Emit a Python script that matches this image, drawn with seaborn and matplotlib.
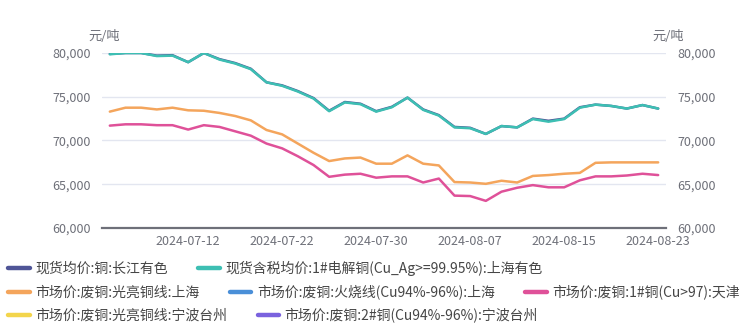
import matplotlib
matplotlib.use("Agg")
import matplotlib.pyplot as plt
from matplotlib.lines import Line2D
import seaborn as sns
import pandas as pd

# Trading days (category axis)
dates = [
    "2024-07-05",
    "2024-07-08", "2024-07-09", "2024-07-10", "2024-07-11", "2024-07-12",
    "2024-07-15", "2024-07-16", "2024-07-17", "2024-07-18", "2024-07-19",
    "2024-07-22", "2024-07-23", "2024-07-24", "2024-07-25", "2024-07-26",
    "2024-07-29", "2024-07-30", "2024-07-31", "2024-08-01", "2024-08-02",
    "2024-08-05", "2024-08-06", "2024-08-07", "2024-08-08", "2024-08-09",
    "2024-08-12", "2024-08-13", "2024-08-14", "2024-08-15", "2024-08-16",
    "2024-08-19", "2024-08-20", "2024-08-21", "2024-08-22", "2024-08-23",
]
tick_dates = ["2024-07-12", "2024-07-22", "2024-07-30", "2024-08-07", "2024-08-15", "2024-08-23"]

# 现货均价:铜:长江有色
changjiang = [79900, 80000, 80000, 79700, 79750, 78950, 80000, 79300, 78850, 78200, 76650, 76300,
              75650, 74850, 73400, 74400, 74200, 73350, 73850, 74900, 73550, 72900, 71550, 71450,
              70750, 71650, 71500, 72500, 72250, 72500, 73800, 74100, 73950, 73650, 74050, 73650]
# 现货含税均价:1#电解铜(Cu_Ag>=99.95%):上海有色
shanghai_cathode = [79850, 80000, 80000, 79650, 79700, 78950, 80000, 79250, 78800, 78150, 76650, 76250,
                    75600, 74800, 73350, 74350, 74150, 73300, 73800, 74900, 73500, 72850, 71500, 71400,
                    70750, 71650, 71500, 72450, 72150, 72450, 73750, 74100, 73950, 73650, 74050, 73650]
# 市场价:废铜:光亮铜线:上海
bright_wire_sh = [73300, 73750, 73750, 73550, 73750, 73450, 73400, 73150, 72800, 72300, 71200, 70700,
                  69650, 68600, 67650, 67950, 68050, 67350, 67350, 68300, 67350, 67150, 65250, 65200,
                  65050, 65400, 65200, 65950, 66050, 66200, 66300, 67450, 67500, 67500, 67500, 67500]
# 市场价:废铜:1#铜(Cu>97):天津
no1_copper_tj = [71700, 71850, 71850, 71750, 71750, 71250, 71750, 71550, 71050, 70550, 69650, 69100,
                 68200, 67200, 65850, 66100, 66200, 65750, 65900, 65900, 65200, 65650, 63700, 63650,
                 63100, 64150, 64600, 64900, 64650, 64650, 65450, 65900, 65900, 66000, 66200, 66050]

names = [
    "现货均价:铜:长江有色",
    "现货含税均价:1#电解铜(Cu_Ag>=99.95%):上海有色",
    "市场价:废铜:光亮铜线:上海",
    "市场价:废铜:火烧线(Cu94%-96%):上海",
    "市场价:废铜:1#铜(Cu>97):天津",
    "市场价:废铜:光亮铜线:宁波台州",
    "市场价:废铜:2#铜(Cu94%-96%):宁波台州",
]
colors = ["#4f5597", "#3dbfb3", "#f4a55c", "#4a8fd8", "#df5199", "#f3d54c", "#7a62de"]
series_values = {
    names[0]: changjiang,
    names[1]: shanghai_cathode,
    names[2]: bright_wire_sh,
    names[4]: no1_copper_tj,
}

frames = []
for name, vals in series_values.items():
    frames.append(pd.DataFrame({"idx": range(len(dates)), "value": vals, "series": name}))
df = pd.concat(frames, ignore_index=True)

sns.set_theme(style="white")
plt.rcParams["font.family"] = ["Noto Sans CJK SC", "DejaVu Sans"]
plt.rcParams["axes.unicode_minus"] = False

W, H = 745, 331
fig = plt.figure(figsize=(W / 100, H / 100), dpi=100)
ax = fig.add_axes([102 / W, 1 - 228 / H, (666 - 102) / W, (228 - 53) / H])

palette = {n: c for n, c in zip(names, colors)}
sns.lineplot(data=df, x="idx", y="value", hue="series", palette=palette,
             hue_order=list(series_values.keys()), linewidth=1.8, ax=ax, legend=False,
             sort=False)

label_color = "#6e7079"
ax.set_xlim(-0.5, len(dates) - 0.5)
ax.set_ylim(60000, 80000)
yt = [60000, 65000, 70000, 75000, 80000]
ax.set_yticks(yt)
ax.set_yticklabels([f"{v:,}" for v in yt], color=label_color, fontsize=9)
ax.set_xticks([dates.index(d) for d in tick_dates])
ax.set_xticklabels(tick_dates, color=label_color, fontsize=9)
ax.tick_params(axis="y", length=0, pad=8)
ax.tick_params(axis="x", length=0, pad=5)
ax.grid(axis="y", color="#e3e6f0", linewidth=1)
ax.set_xlabel("")
ax.set_ylabel("")
for s in ["top", "right", "left"]:
    ax.spines[s].set_visible(False)
ax.spines["bottom"].set_color(label_color)
ax.spines["bottom"].set_linewidth(1.6)
ax.spines["bottom"].set_zorder(5)

ax2 = ax.twinx()
ax2.set_ylim(60000, 80000)
ax2.set_yticks(yt)
ax2.set_yticklabels([f"{v:,}" for v in yt], color=label_color, fontsize=9)
ax2.tick_params(axis="y", length=0, pad=8)
for s in ax2.spines.values():
    s.set_visible(False)
ax2.grid(False)

fig.text(88 / W, 1 - 36 / H, "元/吨", color=label_color, fontsize=9.5, va="center", ha="left")
fig.text(652 / W, 1 - 36 / H, "元/吨", color=label_color, fontsize=9.5, va="center", ha="left")

rows = [[0, 1], [2, 3, 4], [5, 6]]
row_y = [268, 292, 315]
for r, yy in zip(rows, row_y):
    handles = [Line2D([0], [0], color=colors[i], linewidth=3.2, solid_capstyle="round") for i in r]
    fig.legend(handles, [names[i] for i in r], loc="center left",
               bbox_to_anchor=(8 / W, 1 - yy / H), ncol=len(r), frameon=False,
               fontsize=10, handlelength=1.55, handletextpad=0.4, columnspacing=2.2,
               borderpad=0, borderaxespad=0, labelcolor="#464646")

fig.savefig("out.png", dpi=100)
